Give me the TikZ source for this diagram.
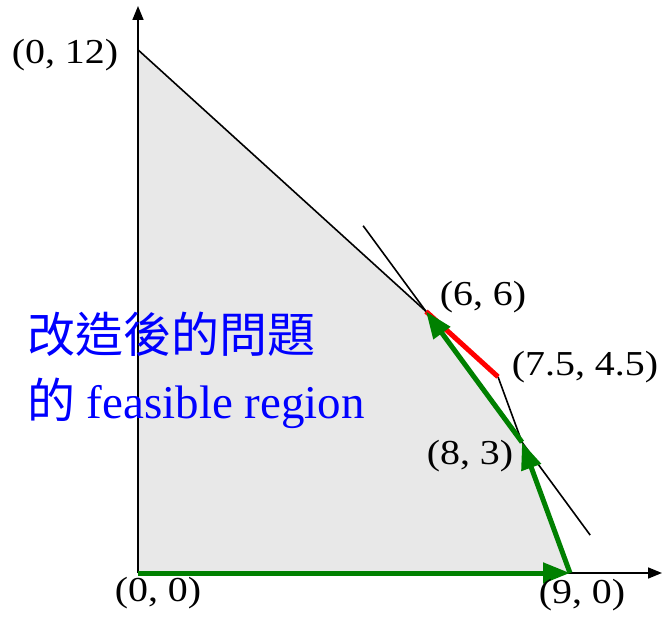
\documentclass[tikz,border=0pt]{standalone}
\usepackage{fontspec}
\setmainfont{Liberation Serif}
\newfontfamily\lblfont[FakeStretch=1.14]{Liberation Serif}
\newfontfamily\cjkfont{Noto Sans CJK TC}
\usetikzlibrary{arrows.meta,calc}
\definecolor{regiongray}{RGB}{232,232,232}
\definecolor{pathgreen}{RGB}{0,128,0}
\tikzset{
  ptlabel/.style={inner sep=0pt,font=\lblfont\fontsize{35}{35}\selectfont},
  thinline/.style={line width=1.6pt,black},
  axisline/.style={line width=1.6pt,black,-{Triangle[length=14pt,width=11pt]}},
  greenarrow/.style={line width=5pt,pathgreen,-{Triangle[length=27pt,width=20pt]}},
  redline/.style={line width=5pt,red},
  bluetext/.style={inner sep=0pt,text=blue,font=\fontsize{47}{47}\selectfont}
}
\begin{document}
\begin{tikzpicture}[x=1pt,y=1pt]
\useasboundingbox (0,0) rectangle (662,-618);
% data points
\coordinate (O) at (138,-573);
\coordinate (P90) at (570,-573);
\coordinate (P83) at (522,-442.2);
\coordinate (P7545) at (498,-376.8);
\coordinate (P66) at (426,-311.4);
\coordinate (P012) at (138,-49.8);
\coordinate (XEnd) at (662,-573);
\coordinate (YEnd) at (138,-6);
\coordinate (TA) at ($(P66)!-0.655!(P83)$);
\coordinate (TB) at ($(P66)!1.71!(P83)$);
% region
\fill[regiongray] (O) -- (P90) -- (P83) -- (P66) -- (P012) -- cycle;
% thin lines
\draw[thinline] (P012) -- (P66);
\draw[thinline] (P7545) -- (P83);
\draw[thinline] (TA) -- (TB);
% axes
\draw[axisline] (O) -- (XEnd);
\draw[axisline] (O) -- (YEnd);
% red segment
\draw[redline] (P66) -- (P7545);
% green path
\draw[greenarrow] (O) -- (P90);
\draw[greenarrow] (P90) -- (P83);
\draw[greenarrow] (P83) -- (P66);
% labels
\node[ptlabel] (L012) at (65,-55) {(0, 12)};
\node[ptlabel] (L00) at (158,-593) {(0, 0)};
\node[ptlabel] (L90) at (582,-595) {(9, 0)};
\node[ptlabel] (L66) at (483,-297) {(6, 6)};
\node[ptlabel] (L7545) at (585,-367) {(7.5, 4.5)};
\node[ptlabel] (L83) at (470,-456) {(8, 3)};
% blue text
\node[bluetext,anchor=base west] (T1) at (27,-352) {{\cjkfont\fontsize{48}{48}\selectfont 改造後的問題}};
\node[bluetext,anchor=base west] (T2) at (27,-418) {{\cjkfont\fontsize{48}{48}\selectfont 的} feasible region};
\end{tikzpicture}
\end{document}
